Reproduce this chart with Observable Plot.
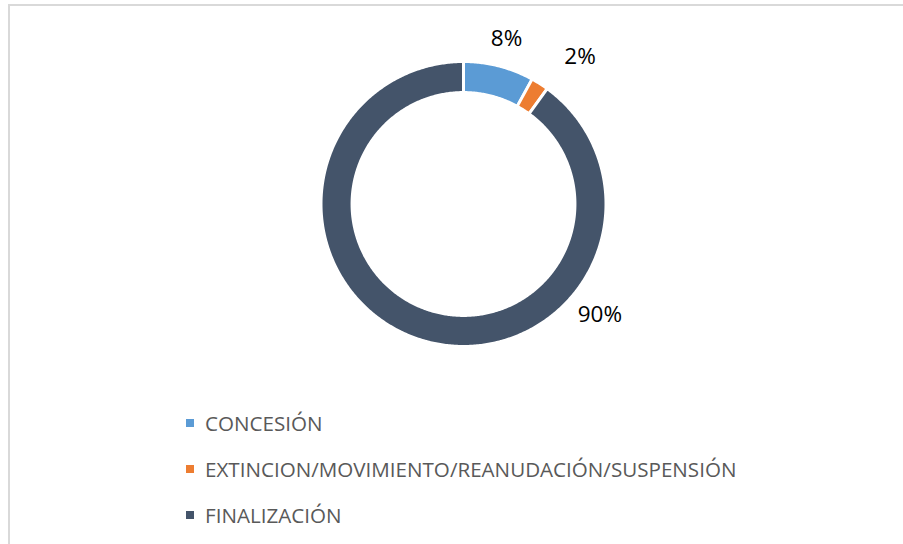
<!DOCTYPE html>
<html>
<head>
<meta charset="utf-8">
<script src="https://cdn.jsdelivr.net/npm/d3@7"></script>
<script src="https://cdn.jsdelivr.net/npm/@observablehq/plot@0.6"></script>
<style>
  html, body { margin: 0; padding: 0; background: #fff; }
  #wrap { position: relative; width: 903px; height: 544px; overflow: hidden; font-family: "Open Sans", sans-serif; }
  #frame { position: absolute; left: 8px; top: 4px; width: 1000px; height: 1000px; border: 2px solid #d9d9d9; box-sizing: border-box; }
  #chart { position: absolute; left: 0; top: 0; }
  #legend { position: absolute; left: 186px; top: 400px; }
  .item { display: flex; align-items: center; height: 46px; font-size: 20.6px; color: #595959; }
  .sw { width: 8px; height: 8px; margin-right: 11px; }
</style>
</head>
<body>
<div id="wrap">
  <div id="frame"></div>
  <div id="chart"></div>
  <div id="legend"></div>
</div>
<script>
const categories = ["CONCESIÓN", "EXTINCION/MOVIMIENTO/REANUDACIÓN/SUSPENSIÓN", "FINALIZACIÓN"];
const values = [8, 2, 90];
const labels = ["8%", "2%", "90%"];
const colors = ["#5B9BD5", "#ED7D31", "#44546A"];
// label placement (angle clockwise from top in degrees, distance relative to outer radius)
const labelAngles = [14.6, 38.3, 129.2];
const labelRadii = [1.2, 1.32, 1.235];

const innerRatio = 0.782;
const total = d3.sum(values);
const pts = [];
let acc = 0;
values.forEach((v, i) => {
  const a0 = acc / total * 2 * Math.PI;
  acc += v;
  const a1 = acc / total * 2 * Math.PI;
  const n = Math.max(4, Math.ceil((a1 - a0) / 0.01));
  const ring = [];
  for (let k = 0; k <= n; k++) {
    const a = a0 + (a1 - a0) * k / n;
    ring.push({x: Math.sin(a), y: Math.cos(a), key: categories[i]});
  }
  for (let k = n; k >= 0; k--) {
    const a = a0 + (a1 - a0) * k / n;
    ring.push({x: innerRatio * Math.sin(a), y: innerRatio * Math.cos(a), key: categories[i]});
  }
  ring.push({...ring[0]});
  pts.push(...ring);
});

const labelData = labels.map((t, i) => ({
  text: t,
  x: labelRadii[i] * Math.sin(labelAngles[i] * Math.PI / 180),
  y: labelRadii[i] * Math.cos(labelAngles[i] * Math.PI / 180)
}));

const cx = 463, cy = 203.5, R = 142.5;
const chart = Plot.plot({
  width: 903,
  height: 400,
  margin: 0,
  style: {background: "transparent", fontFamily: "Open Sans, sans-serif"},
  x: {domain: [-1, 1], range: [cx - R, cx + R], axis: null},
  y: {domain: [-1, 1], range: [cy + R, cy - R], axis: null},
  color: {domain: categories, range: colors},
  marks: [
    Plot.line(pts, {x: "x", y: "y", z: "key", fill: "key", stroke: "white", strokeWidth: 3, curve: "linear"}),
    Plot.text(labelData, {x: "x", y: "y", text: "text", fontSize: 22.5, fill: "#000"})
  ]
});
document.getElementById("chart").appendChild(chart);

const legend = document.getElementById("legend");
categories.forEach((c, i) => {
  const item = document.createElement("div");
  item.className = "item";
  const sw = document.createElement("span");
  sw.className = "sw";
  sw.style.background = colors[i];
  const tx = document.createElement("span");
  tx.textContent = c;
  item.appendChild(sw);
  item.appendChild(tx);
  legend.appendChild(item);
});
</script>
</body>
</html>
